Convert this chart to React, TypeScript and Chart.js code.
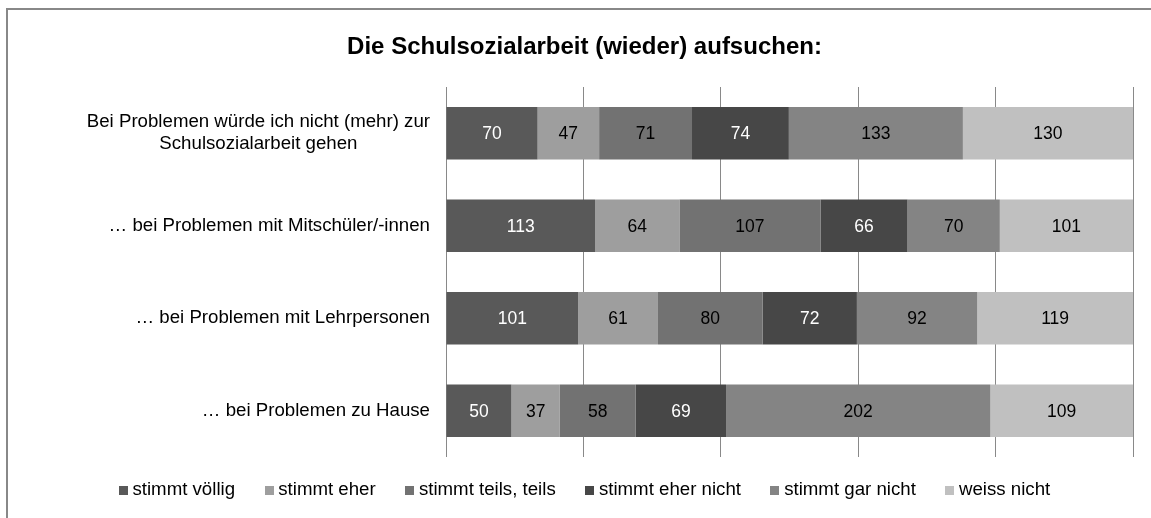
import { useEffect, useRef } from "react";
import { Chart, registerables } from "chart.js";

Chart.register(...registerables);

const titleText = "Die Schulsozialarbeit (wieder) aufsuchen:";

const categories: (string | string[])[] = [
  ["Bei Problemen würde ich nicht (mehr) zur", "Schulsozialarbeit gehen"],
  "… bei Problemen mit Mitschüler/-innen",
  "… bei Problemen mit Lehrpersonen",
  "… bei Problemen zu Hause",
];

const seriesNames = [
  "stimmt völlig",
  "stimmt eher",
  "stimmt teils, teils",
  "stimmt eher nicht",
  "stimmt gar nicht",
  "weiss nicht",
];

const stimmtVoellig = [70, 113, 101, 50];
const stimmtEher = [47, 64, 61, 37];
const stimmtTeilsTeils = [71, 107, 80, 58];
const stimmtEherNicht = [74, 66, 72, 69];
const stimmtGarNicht = [133, 70, 92, 202];
const weissNicht = [130, 101, 119, 109];

const xTicks = [0, 20, 40, 60, 80, 100];

const seriesValues = [
  stimmtVoellig,
  stimmtEher,
  stimmtTeilsTeils,
  stimmtEherNicht,
  stimmtGarNicht,
  weissNicht,
];

const seriesColors = ["#595959", "#9e9e9e", "#727272", "#474747", "#848484", "#c0c0c0"];
const valueLabelColors = ["#ffffff", "#000000", "#000000", "#ffffff", "#000000", "#000000"];

const FONT = '"Liberation Sans", Arial, sans-serif';

const rowTotals = categories.map((_, i) =>
  seriesValues.reduce((s, arr) => s + arr[i], 0)
);

const yLabelPlugin = {
  id: "yLabelsCentered",
  afterDraw(chart: any) {
    const ctx = chart.ctx as CanvasRenderingContext2D;
    const yScale = chart.scales.y;
    const right = chart.chartArea.left - 16;
    ctx.save();
    ctx.font = `18.67px ${FONT}`;
    ctx.fillStyle = "#000000";
    ctx.textBaseline = "middle";
    ctx.textAlign = "center";
    categories.forEach((cat, i) => {
      const lines = Array.isArray(cat) ? cat : [cat];
      const w = Math.max(...lines.map((l) => ctx.measureText(l).width));
      const cx = right - w / 2;
      const cy = yScale.getPixelForValue(i);
      const lh = 22;
      lines.forEach((l, j) => {
        ctx.fillText(l, cx, cy + (j - (lines.length - 1) / 2) * lh);
      });
    });
    ctx.restore();
  },
};

const valueLabelPlugin = {
  id: "valueLabels",
  afterDatasetsDraw(chart: any) {
    const ctx = chart.ctx as CanvasRenderingContext2D;
    ctx.save();
    ctx.font = `17.5px ${FONT}`;
    ctx.textAlign = "center";
    ctx.textBaseline = "middle";
    chart.data.datasets.forEach((_: any, di: number) => {
      const meta = chart.getDatasetMeta(di);
      ctx.fillStyle = valueLabelColors[di];
      meta.data.forEach((el: any, i: number) => {
        const p = el.getCenterPoint();
        ctx.fillText(String(seriesValues[di][i]), p.x, p.y + 1);
      });
    });
    ctx.restore();
  },
};

const legendPlugin = {
  id: "customLegend",
  afterDraw(chart: any) {
    const ctx = chart.ctx as CanvasRenderingContext2D;
    ctx.save();
    ctx.font = `18.67px ${FONT}`;
    ctx.textBaseline = "middle";
    ctx.textAlign = "left";
    const box = 9;
    const boxGap = 4.7;
    const itemGap = 29.5;
    const widths = seriesNames.map((n) => box + boxGap + ctx.measureText(n).width);
    const total = widths.reduce((a, b) => a + b, 0) + itemGap * (widths.length - 1);
    const centerX = 584.5;
    const cy = chart.chartArea.bottom + 33;
    let x = centerX - total / 2;
    seriesNames.forEach((n, i) => {
      ctx.fillStyle = seriesColors[i];
      ctx.fillRect(Math.round(x), Math.round(cy - box / 2), box, box);
      ctx.fillStyle = "#000000";
      ctx.fillText(n, x + box + boxGap, cy);
      x += widths[i] + itemGap;
    });
    ctx.restore();
  },
};

export default function App() {
  const canvasRef = useRef<HTMLCanvasElement | null>(null);

  useEffect(() => {
    if (!canvasRef.current) return;
    const chart = new Chart(canvasRef.current, {
      type: "bar",
      data: {
        labels: categories.map((c) => (Array.isArray(c) ? c.join(" ") : c)),
        datasets: seriesValues.map((vals, di) => ({
          label: seriesNames[di],
          data: vals.map((v, i) => (v / rowTotals[i]) * 100),
          backgroundColor: seriesColors[di],
          borderWidth: 0,
          categoryPercentage: 1,
          barPercentage: 0.57,
        })),
      },
      options: {
        indexAxis: "y",
        animation: false,
        responsive: false,
        maintainAspectRatio: false,
        layout: { padding: { left: 36, right: 18, top: 0, bottom: 53 } },
        scales: {
          x: {
            stacked: true,
            min: 0,
            max: 100,
            afterBuildTicks: (s: any) => {
              s.ticks = xTicks.map((v) => ({ value: v }));
            },
            afterFit: (s: any) => {
              s.height = 0;
            },
            ticks: { display: false },
            grid: { color: "#898989", lineWidth: 1, drawTicks: false },
            border: { display: false },
          },
          y: {
            stacked: true,
            afterFit: (s: any) => {
              s.width = 410;
            },
            ticks: { display: false },
            grid: { display: false, drawTicks: false },
            border: { display: false },
          },
        },
        plugins: {
          title: {
            display: true,
            text: titleText,
            color: "#000000",
            font: { family: FONT, size: 24, weight: "bold" },
            padding: { top: 32.6, bottom: 25.6 },
          },
          legend: { display: false },
          tooltip: { enabled: false },
        },
      },
      plugins: [yLabelPlugin, valueLabelPlugin, legendPlugin],
    } as any);
    return () => chart.destroy();
  }, []);

  return (
    <div
      style={{
        position: "fixed",
        left: 0,
        top: 0,
        width: 1151,
        height: 518,
        overflow: "hidden",
        background: "#ffffff",
      }}
    >
      <div
        style={{
          position: "absolute",
          left: 6,
          top: 8,
          width: 1300,
          height: 700,
          borderLeft: "2px solid #888888",
          borderTop: "2px solid #888888",
        }}
      />
      <canvas
        ref={canvasRef}
        width={1151}
        height={510}
        style={{ position: "absolute", left: 0, top: 0, width: 1151, height: 510 }}
      />
    </div>
  );
}
